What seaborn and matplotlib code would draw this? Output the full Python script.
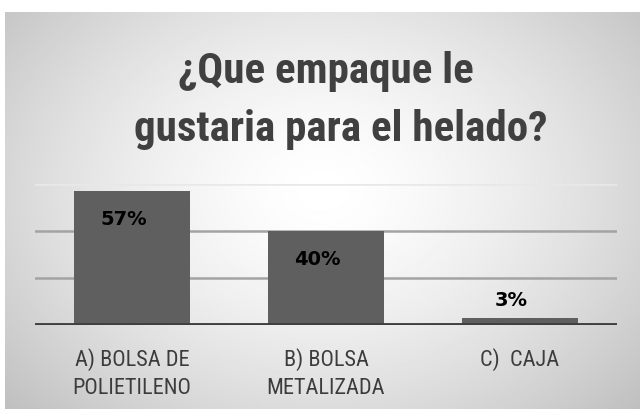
import matplotlib
matplotlib.use("Agg")
import matplotlib.pyplot as plt
import numpy as np
import pandas as pd
import seaborn as sns

# data
categories = ["A) BOLSA DE\nPOLIETILENO", "B) BOLSA\nMETALIZADA", "C)  CAJA"]
values = [0.57, 0.40, 0.03]
labels = ["57%", "40%", "3%"]
title_lines = ["¿Que empaque le", "gustaria para el helado?"]

sns.set_theme(style="white")
narrow = ["Roboto Condensed", "Roboto", "DejaVu Sans"]

W, H = 640, 410
fig = plt.figure(figsize=(W / 100, H / 100), dpi=100)
fig.patch.set_facecolor("white")

# radial gradient background box
bg = fig.add_axes([5 / W, 0, (W - 5) / W, (H - 13) / H])
yy, xx = np.mgrid[0:1:300j, 0:1:400j]
r = np.sqrt(((xx - 0.5) / 0.62) ** 2 + ((yy - 0.45) / 0.75) ** 2)
grad = 1 - 0.22 * np.clip(r, 0, 1.2) ** 1.5
bg.imshow(grad, cmap="gray", vmin=0, vmax=1, aspect="auto",
          extent=[0, 1, 0, 1], origin="upper")
bg.axis("off")

# main plot area
left, right = 35 / W, 617 / W
bottom = (H - 326) / H
top = (H - 185) / H
ax = fig.add_axes([left, bottom, right - left, top - bottom])
ax.patch.set_alpha(0)

df = pd.DataFrame({"cat": categories, "val": values})
for y, c in [(0.2, "#a3a3a3"), (0.4, "#a3a3a3"), (0.6, "#e8e8e8")]:
    ax.axhline(y, color=c, lw=1.8, zorder=0)

sns.barplot(data=df, x="cat", y="val", color="#5f5f5f", width=0.6,
            saturation=1, linewidth=0, ax=ax, zorder=2)
ax.axhline(0, color="#3f3f3f", lw=3.5, zorder=3)

ax.set_ylim(0, 0.6)
ax.set_xlim(-0.5, 2.5)
ax.set_yticks([])
ax.set_xlabel("")
ax.set_ylabel("")
for s in ax.spines.values():
    s.set_visible(False)
ax.tick_params(axis="x", length=0, pad=16)
for t in ax.get_xticklabels():
    t.set_family(narrow)
    t.set_fontsize(16)
    t.set_color("#3c3c3c")
    t.set_va("top")
    t.set_linespacing(1.45)

for i, (v, lab) in enumerate(zip(values, labels)):
    dy = -20 if v > 0.1 else 13
    ax.annotate(lab, (i, v), xytext=(-6, dy), textcoords="offset points",
                ha="center", va="center", fontsize=14, fontweight="bold",
                color="black")

fig.text(326 / W, 1 - 72 / H, title_lines[0], ha="center", va="center",
         family=narrow, fontweight="bold", fontsize=31, color="#404040")
fig.text(341 / W, 1 - 130 / H, title_lines[1], ha="center", va="center",
         family=narrow, fontweight="bold", fontsize=31, color="#404040")

fig.savefig("out.png", dpi=100)
